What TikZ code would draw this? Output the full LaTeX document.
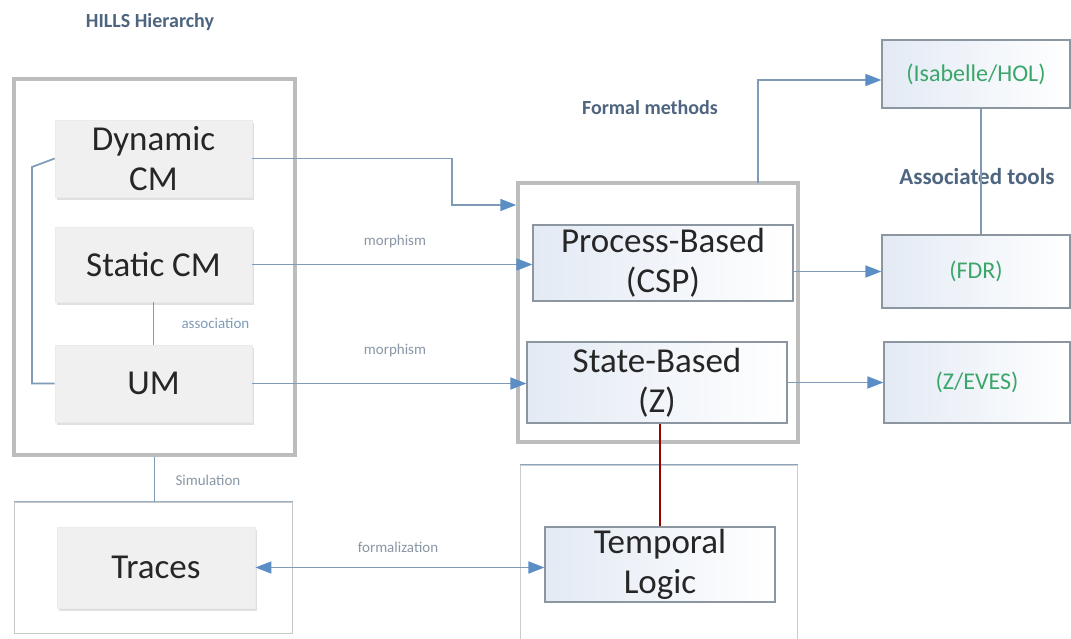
\documentclass[tikz,border=0pt]{standalone}
\usepackage{fontspec}
\setmainfont{Carlito}
\usetikzlibrary{arrows.meta,calc}
\definecolor{linkc}{HTML}{7F9BB8}
\definecolor{tipc}{HTML}{5B8EC4}
\definecolor{labc}{HTML}{8A97A6}
\definecolor{headc}{HTML}{4E6580}
\definecolor{framec}{HTML}{BDBDBD}
\definecolor{greyfill}{HTML}{F0F0F0}
\definecolor{boxline}{HTML}{8C96A0}
\definecolor{toolc}{HTML}{3AA66A}
\definecolor{inkc}{HTML}{262626}
\definecolor{paleblue}{HTML}{E3EAF4}
\tikzset{
  conn/.style={draw=linkc, line width=1.7pt},
  arr/.style={conn, -{Triangle[length=16pt,width=12pt,color=tipc,fill=tipc]}},
  biarr/.style={conn, {Triangle[length=16pt,width=12pt,color=tipc,fill=tipc]}-{Triangle[length=16pt,width=12pt,color=tipc,fill=tipc]}},
  frame/.style={draw=framec, line width=3.5pt, fill=white, inner sep=0pt},
  greybox/.style={draw=black!8, fill=greyfill, line width=0.8pt, inner sep=0pt,
    text=inkc, align=center, font=\fontsize{35}{40}\selectfont},
  bluebox/.style={draw=boxline, line width=1.2pt, left color=paleblue, right color=white,
    inner sep=0pt, text=inkc, align=center, font=\fontsize{35}{40}\selectfont},
  toolbox/.style={draw=boxline, line width=1.2pt, left color=paleblue, right color=white,
    inner sep=0pt, text=toolc, align=center, font=\fontsize{24}{28}\selectfont},
  lab/.style={text=labc, font=\fontsize{15}{18}\selectfont},
  head/.style={text=headc, font=\bfseries\fontsize{20}{24}\selectfont},
  shadowed/.style={preaction={fill=black!12, transform canvas={xshift=2pt,yshift=-3pt}}}
}
\begin{document}
\begin{tikzpicture}[x=1pt,y=-1pt]
\useasboundingbox (0,0) rectangle (1071,639);
\fill[white] (0,0) rectangle (1071,639);
\clip (0,0) rectangle (1071,639);

% headings
\node[head] (hills) at (150,22) {HILLS Hierarchy};
\node[head] (fmlab) at (650,108) {Formal methods};
\node[head, font=\bfseries\fontsize{23}{27}\selectfont] (assoclab) at (977,177) {Associated tools};

% left-hand hierarchy
\node[frame, minimum width=281pt, minimum height=376pt] (hier) at (154.5,267) {};
\node[greybox, shadowed, minimum width=197pt, minimum height=77pt] (dyn) at (153.5,158.5) {Dynamic\\CM};
\node[greybox, shadowed, minimum width=197pt, minimum height=75pt] (st) at (153.5,264.5) {Static CM};
\node[greybox, shadowed, minimum width=197pt, minimum height=77pt] (um) at (153.5,383.5) {UM};

% simulation panel
\node[draw=black!22, line width=1pt, fill=white, minimum width=278pt, minimum height=131pt, inner sep=0pt] (sim) at (153,567.5) {};
\draw[draw=linkc!80, line width=1.7pt] (sim.north west) -- (sim.north east);
\node[greybox, shadowed, minimum width=198pt, minimum height=81pt] (traces) at (156,567.5) {Traces};

% formal methods panel
\node[frame, minimum width=280pt, minimum height=259pt] (fm) at (658,312.5) {};
\node[bluebox, minimum width=260pt, minimum height=76pt] (proc) at (663,263) {Process-Based\\(CSP)};
\node[bluebox, minimum width=260pt, minimum height=81pt] (state) at (657,382.5) {State-Based\\(Z)};

% temporal logic panel
\node[draw=black!20, line width=1pt, fill=white, minimum width=277pt, minimum height=190pt, inner sep=0pt] (tlpanel) at (658.5,560) {};
\draw[draw=linkc!90, line width=1.7pt] (tlpanel.north west) -- (tlpanel.north east);
\node[bluebox, minimum width=230pt, minimum height=75pt] (tl) at (660,564.5) {Temporal\\Logic};

% tools
\node[toolbox, minimum width=188pt, minimum height=68pt] (isa) at (976,74) {(Isabelle/HOL)};
\node[toolbox, minimum width=188pt, minimum height=73pt] (fdr) at (976,271.5) {(FDR)};
\node[toolbox, minimum width=186pt, minimum height=81pt] (zeves) at (977,382.5) {(Z/EVES)};

% links inside the hierarchy
\draw[conn] (dyn.west) -- (32,167) -- (32,383.5) -- (um.west);
\draw[conn] (st.south) -- (um.north);
\node[lab, anchor=west, text=linkc] (assoc) at (178,323) {association};

% simulation
\draw[conn] (hier.south) -- (hier.south |- sim.north);
\node[lab, anchor=west] (simlab) at (172,480) {Simulation};

% morphisms
\draw[arr] (dyn.east) -- (452,158.5) -- (452,205) -- (fm.west |- 452,205);
\draw[arr] (st.east) -- (proc.west |- st.east);
\node[lab] (m1) at (395,242) {morphism};
\draw[arr] (um.east) -- (state.west |- um.east);
\node[lab] (m2) at (395,350) {morphism};

% formalization
\draw[biarr] (traces.east) -- (tl.west |- traces.east);
\node[lab] (formlab) at (398,547) {formalization};

% state-based to temporal logic
\draw[draw=red!60!black, line width=1.3pt] (state.south -| tl.north) -- (tl.north);

% formal methods to tools
\draw[arr] (758,183) -- (758,80) -- ([yshift=-6pt]isa.west);
\draw[conn] ([xshift=5pt]isa.south) -- ([xshift=5pt]fdr.north);
\draw[arr] (fdr.west -| proc.east) -- (fdr.west);
\draw[arr] (state.east) -- (zeves.west |- state.east);
\end{tikzpicture}
\end{document}
